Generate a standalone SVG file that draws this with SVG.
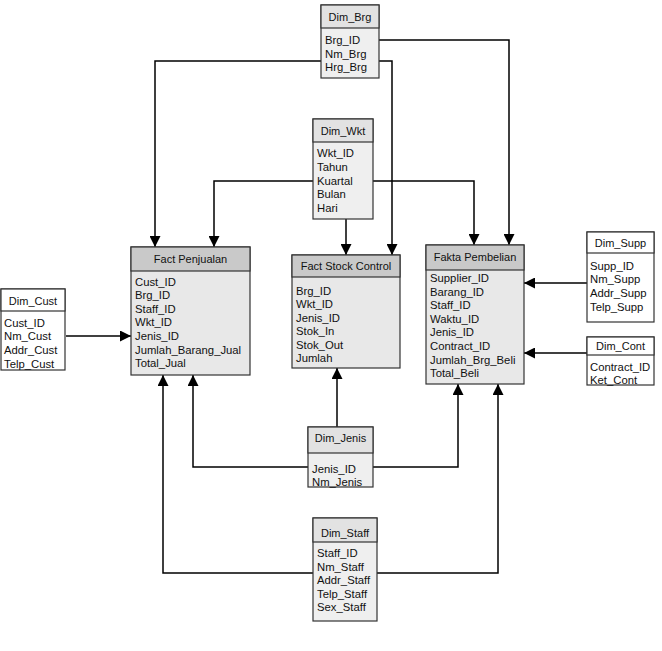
<svg xmlns="http://www.w3.org/2000/svg" width="662" height="651" viewBox="0 0 662 651">
  <defs>
    <marker id="arrow" viewBox="0 0 10 10" refX="10" refY="5" markerWidth="11" markerHeight="11" markerUnits="userSpaceOnUse" orient="auto">
      <path d="M0,0 L10,5 L0,10 Z" fill="#000"/>
    </marker>
    <style>
      text { font-family: "Liberation Sans", Arial, sans-serif; font-size: 11.3px; fill: #111; }
      .hdr { text-anchor: middle; font-size: 11px; }
      .box { stroke: #333; stroke-width: 1.2; }
      .dimH { fill: #e2e2e2; }
      .dimB { fill: #efefef; }
      .plainH { fill: #ffffff; }
      .plainB { fill: #ffffff; }
      .factH { fill: #c9c9c9; }
      .factB { fill: #e8e8e8; }
      .link { fill: none; stroke: #000; stroke-width: 1.5; }
      .arr { marker-end: url(#arrow); }
    </style>
  </defs>
  <rect width="662" height="651" fill="#ffffff"/>

  <!-- connectors -->
  <g id="connectors">
    <polyline class="link arr" points="321,61 155,61 155,247"/>
    <polyline class="link arr" points="379,40 509,40 509,245"/>
    <polyline class="link arr" points="379,61 392,61 392,255"/>
    <polyline class="link arr" points="313,181 214,181 214,247"/>
    <polyline class="link arr" points="373,181 474,181 474,245"/>
    <polyline class="link arr" points="346,219 346,255"/>
    <polyline class="link arr" points="66,336 131,336"/>
    <polyline class="link arr" points="587,283 524,283"/>
    <polyline class="link arr" points="587,353 524,353"/>
    <polyline class="link arr" points="337,427 337,368"/>
    <polyline class="link arr" points="308,467 193,467 193,375"/>
    <polyline class="link arr" points="373,467 458,467 458,384"/>
    <polyline class="link arr" points="313,573 163,573 163,375"/>
    <polyline class="link arr" points="377,573 498,573 498,384"/>
  </g>

  <!-- Dim_Brg -->
  <g id="dim_brg">
    <rect class="box dimB" x="321" y="5" width="58" height="73"/>
    <rect class="box dimH" x="321" y="5" width="58" height="23"/>
    <text class="hdr" x="350" y="21">Dim_Brg</text>
    <text x="325" y="44">Brg_ID</text>
    <text x="325" y="58">Nm_Brg</text>
    <text x="325" y="71">Hrg_Brg</text>
  </g>

  <!-- Dim_Wkt -->
  <g id="dim_wkt">
    <rect class="box dimB" x="313" y="119" width="60" height="100"/>
    <rect class="box dimH" x="313" y="119" width="60" height="23"/>
    <text class="hdr" x="343" y="135">Dim_Wkt</text>
    <text x="317" y="157">Wkt_ID</text>
    <text x="317" y="171">Tahun</text>
    <text x="317" y="185">Kuartal</text>
    <text x="317" y="198">Bulan</text>
    <text x="317" y="212">Hari</text>
  </g>

  <!-- Fact Penjualan -->
  <g id="fact_penjualan">
    <rect class="box factB" x="131" y="247" width="119" height="128"/>
    <rect class="box factH" x="131" y="247" width="119" height="24"/>
    <text class="hdr" x="190.5" y="263">Fact Penjualan</text>
    <text x="135" y="286">Cust_ID</text>
    <text x="135" y="299">Brg_ID</text>
    <text x="135" y="313">Staff_ID</text>
    <text x="135" y="326">Wkt_ID</text>
    <text x="135" y="340">Jenis_ID</text>
    <text x="135" y="354">Jumlah_Barang_Jual</text>
    <text x="135" y="367">Total_Jual</text>
  </g>

  <!-- Fact Stock Control -->
  <g id="fact_stock_control">
    <rect class="box factB" x="292" y="255" width="108" height="113"/>
    <rect class="box factH" x="292" y="255" width="108" height="22"/>
    <text class="hdr" x="346" y="270">Fact Stock Control</text>
    <text x="296" y="295">Brg_ID</text>
    <text x="296" y="308">Wkt_ID</text>
    <text x="296" y="322">Jenis_ID</text>
    <text x="296" y="335">Stok_In</text>
    <text x="296" y="349">Stok_Out</text>
    <text x="296" y="362">Jumlah</text>
  </g>

  <!-- Fakta Pembelian -->
  <g id="fakta_pembelian">
    <rect class="box factB" x="426" y="245" width="98" height="139"/>
    <rect class="box factH" x="426" y="245" width="98" height="25"/>
    <text class="hdr" x="475" y="261">Fakta Pembelian</text>
    <text x="430" y="282">Supplier_ID</text>
    <text x="430" y="296">Barang_ID</text>
    <text x="430" y="309">Staff_ID</text>
    <text x="430" y="323">Waktu_ID</text>
    <text x="430" y="336">Jenis_ID</text>
    <text x="430" y="350">Contract_ID</text>
    <text x="430" y="364">Jumlah_Brg_Beli</text>
    <text x="430" y="377">Total_Beli</text>
  </g>

  <!-- Dim_Cust -->
  <g id="dim_cust">
    <rect class="box plainB" x="1" y="289" width="64" height="81"/>
    <rect class="box plainH" x="1" y="289" width="64" height="22"/>
    <text class="hdr" x="33" y="305">Dim_Cust</text>
    <text x="4" y="327">Cust_ID</text>
    <text x="4" y="340">Nm_Cust</text>
    <text x="4" y="354">Addr_Cust</text>
    <text x="4" y="368">Telp_Cust</text>
  </g>

  <!-- Dim_Supp -->
  <g id="dim_supp">
    <rect class="box plainB" x="587" y="232" width="67" height="90"/>
    <rect class="box plainH" x="587" y="232" width="67" height="21"/>
    <text class="hdr" x="620.5" y="247">Dim_Supp</text>
    <text x="590" y="270">Supp_ID</text>
    <text x="590" y="283">Nm_Supp</text>
    <text x="590" y="297">Addr_Supp</text>
    <text x="590" y="311">Telp_Supp</text>
  </g>

  <!-- Dim_Cont -->
  <g id="dim_cont">
    <rect class="box plainB" x="587" y="337" width="67" height="48"/>
    <rect class="box plainH" x="587" y="337" width="67" height="18"/>
    <text class="hdr" x="620.5" y="350">Dim_Cont</text>
    <text x="590" y="371">Contract_ID</text>
    <text x="590" y="384">Ket_Cont</text>
  </g>

  <!-- Dim_Jenis -->
  <g id="dim_jenis">
    <rect class="box dimB" x="308" y="427" width="65" height="60"/>
    <rect class="box dimH" x="308" y="427" width="65" height="26"/>
    <text class="hdr" x="340.5" y="442">Dim_Jenis</text>
    <text x="312" y="473">Jenis_ID</text>
    <text x="312" y="486">Nm_Jenis</text>
  </g>

  <!-- Dim_Staff -->
  <g id="dim_staff">
    <rect class="box dimB" x="313" y="518" width="64" height="103"/>
    <rect class="box dimH" x="313" y="518" width="64" height="24"/>
    <text class="hdr" x="345" y="537">Dim_Staff</text>
    <text x="317" y="557">Staff_ID</text>
    <text x="317" y="571">Nm_Staff</text>
    <text x="317" y="584">Addr_Staff</text>
    <text x="317" y="598">Telp_Staff</text>
    <text x="317" y="611">Sex_Staff</text>
  </g>
</svg>
